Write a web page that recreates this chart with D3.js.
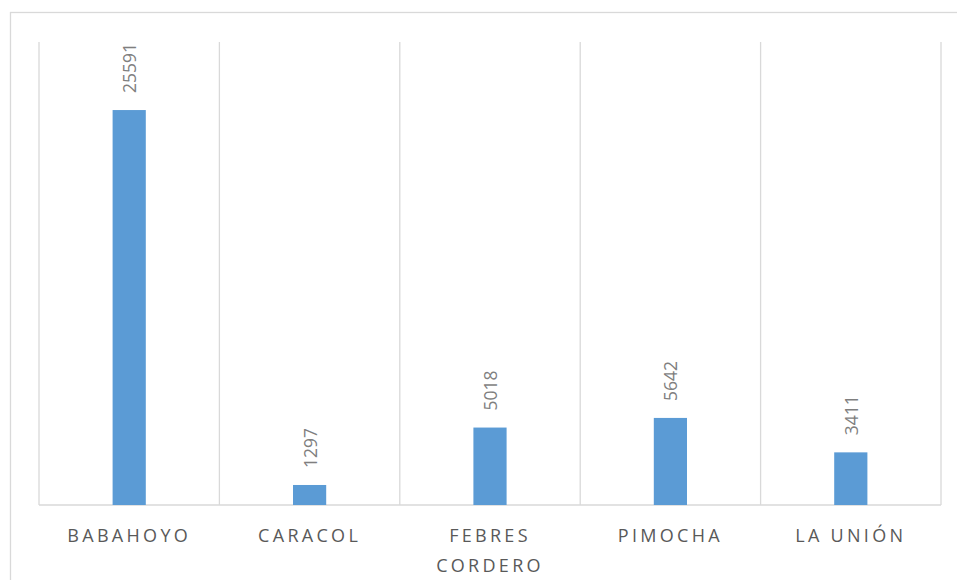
<!DOCTYPE html>
<html>
<head>
<meta charset="utf-8">
<script src="https://d3js.org/d3.v7.min.js"></script>
<style>
  body { margin: 0; background: #fff; }
  svg { display: block; font-family: "Open Sans", "Liberation Sans", Arial, sans-serif; }
</style>
</head>
<body>
<div id="chart"></div>
<script>
// Data
const categories = ['BABAHOYO', 'CARACOL', 'FEBRES CORDERO', 'PIMOCHA', 'LA UNIÓN'];
const values = [25591, 1297, 5018, 5642, 3411];
const yMax = 30000;

const width = 957;
const height = 580;
const margin = { top: 42, right: 16, bottom: 75, left: 39 };

const svg = d3.select('#chart')
  .append('svg')
  .attr('width', width)
  .attr('height', height);

// Chart frame (right and bottom edges fall outside the picture)
svg.append('rect')
  .attr('x', 10.5)
  .attr('y', 12.5)
  .attr('width', width + 20)
  .attr('height', height + 20)
  .attr('fill', 'none')
  .attr('stroke', '#d9d9d9')
  .attr('stroke-width', 1.3);

const x = d3.scaleBand()
  .domain(categories)
  .range([margin.left, width - margin.right])
  .paddingInner(0)
  .paddingOuter(0);

const y = d3.scaleLinear()
  .domain([0, yMax])
  .range([height - margin.bottom, margin.top]);

// Vertical gridlines at category boundaries
const bounds = categories.map(c => x(c)).concat([x.range()[1]]);
svg.append('g')
  .selectAll('line')
  .data(bounds)
  .join('line')
  .attr('x1', d => d)
  .attr('x2', d => d)
  .attr('y1', y(yMax))
  .attr('y2', y(0))
  .attr('stroke', '#d9d9d9')
  .attr('stroke-width', 1.3);

// Baseline
svg.append('line')
  .attr('x1', x.range()[0])
  .attr('x2', x.range()[1])
  .attr('y1', y(0))
  .attr('y2', y(0))
  .attr('stroke', '#d9d9d9')
  .attr('stroke-width', 1.3);

// Bars
const barW = x.bandwidth() * 0.184;
svg.append('g')
  .selectAll('rect')
  .data(values)
  .join('rect')
  .attr('x', (d, i) => x(categories[i]) + x.bandwidth() / 2 - barW / 2)
  .attr('y', d => y(d))
  .attr('width', barW)
  .attr('height', d => y(0) - y(d))
  .attr('fill', '#5b9bd5');

// Data labels, rotated
svg.append('g')
  .selectAll('text')
  .data(values)
  .join('text')
  .attr('transform', (d, i) => {
    const cx = x(categories[i]) + x.bandwidth() / 2;
    return `translate(${cx + 7},${y(d) - 17}) rotate(-90)`;
  })
  .attr('text-anchor', 'start')
  .attr('font-size', 17.5)
  .attr('fill', '#7f7f7f')
  .text(d => d);

// Category labels with wrapping
const labels = svg.append('g')
  .selectAll('text')
  .data(categories)
  .join('text')
  .attr('x', d => x(d) + x.bandwidth() / 2)
  .attr('y', 542)
  .attr('text-anchor', 'middle')
  .attr('font-size', 18)
  .attr('letter-spacing', '3.3px')
  .attr('fill', '#595959');

labels.each(function(d) {
  const t = d3.select(this);
  t.text(d);
  if (this.getComputedTextLength() > x.bandwidth() - 10) {
    t.text(null);
    d.split(' ').forEach((w, k) => {
      t.append('tspan')
        .attr('x', x(d) + x.bandwidth() / 2)
        .attr('dy', k === 0 ? 0 : 29.5)
        .text(w);
    });
  }
});
</script>
</body>
</html>
